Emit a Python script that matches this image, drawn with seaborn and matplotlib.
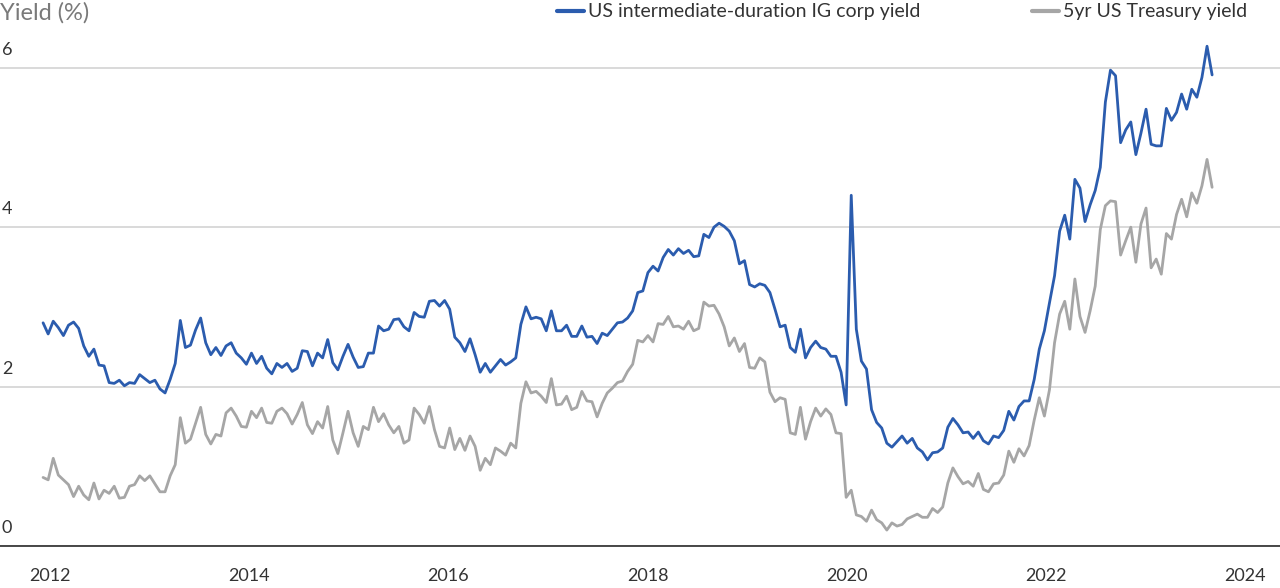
import numpy as np
import pandas as pd
import matplotlib
matplotlib.use("Agg")
import matplotlib.pyplot as plt
import seaborn as sns

# ---------------- data ----------------
corp_label = "US intermediate-duration IG corp yield"
tsy_label = "5yr US Treasury yield"

start_date = "2011-12-06"
end_date = "2023-09-02"

corp_yield = [
    2.80, 2.66, 2.82, 2.74, 2.64, 2.77, 2.81, 2.73, 2.51, 2.38,
    2.47, 2.27, 2.26, 2.05, 2.04, 2.08, 2.01, 2.05, 2.04, 2.15,
    2.10, 2.05, 2.08, 1.97, 1.92, 2.09, 2.29, 2.83, 2.49, 2.52,
    2.71, 2.86, 2.55, 2.40, 2.49, 2.39, 2.51, 2.55, 2.42, 2.36,
    2.28, 2.42, 2.29, 2.38, 2.23, 2.16, 2.29, 2.24, 2.29, 2.19,
    2.23, 2.45, 2.44, 2.26, 2.42, 2.36, 2.59, 2.30, 2.21, 2.38,
    2.53, 2.37, 2.24, 2.25, 2.42, 2.42, 2.76, 2.70, 2.72, 2.84,
    2.85, 2.75, 2.70, 2.93, 2.88, 2.87, 3.07, 3.08, 3.01,
    3.08, 2.97, 2.62, 2.55, 2.44, 2.60, 2.40, 2.18, 2.29, 2.18,
    2.26, 2.34, 2.27, 2.31, 2.36, 2.78, 3.00, 2.85, 2.87, 2.85,
    2.70, 2.95, 2.70, 2.70, 2.77, 2.63, 2.63, 2.76, 2.62, 2.63,
    2.54, 2.67, 2.64, 2.72, 2.80, 2.81, 2.86, 2.95, 3.18, 3.20,
    3.43, 3.51, 3.45, 3.62, 3.72, 3.65, 3.73, 3.67, 3.71, 3.63,
    3.64, 3.91, 3.87, 4.00, 4.05, 4.01, 3.95, 3.83, 3.54, 3.58,
    3.28, 3.25, 3.29, 3.27, 3.18, 2.97, 2.75, 2.77, 2.49, 2.43,
    2.72, 2.36, 2.49, 2.57, 2.49, 2.47, 2.38, 2.38, 2.18,
    1.77, 4.40, 2.72, 2.32, 2.22, 1.71, 1.55, 1.48, 1.29, 1.24,
    1.31, 1.38, 1.29, 1.35, 1.23, 1.18, 1.08, 1.17, 1.18, 1.23,
    1.49, 1.60, 1.52, 1.42, 1.43, 1.35, 1.43, 1.32, 1.28, 1.38,
    1.36, 1.45, 1.69, 1.58, 1.75, 1.82, 1.82, 2.09, 2.47,
    2.70, 3.05, 3.39, 3.95, 4.15, 3.85, 4.60, 4.49, 4.07, 4.28,
    4.46, 4.75, 5.57, 5.97, 5.90, 5.06, 5.22, 5.32, 4.91, 5.18,
    5.48, 5.04, 5.02, 5.02, 5.49, 5.34, 5.44, 5.67, 5.48, 5.73,
    5.63, 5.88, 6.27, 5.91,
]

tsy_yield = [
    0.86, 0.83, 1.10, 0.89, 0.83, 0.77, 0.62, 0.75, 0.64, 0.58,
    0.79, 0.59, 0.70, 0.66, 0.75, 0.60, 0.61, 0.75, 0.77, 0.88,
    0.82, 0.88, 0.78, 0.68, 0.68, 0.88, 1.02, 1.61, 1.29, 1.34,
    1.54, 1.74, 1.40, 1.28, 1.40, 1.38, 1.67, 1.73, 1.63, 1.50,
    1.49, 1.69, 1.61, 1.73, 1.55, 1.54, 1.69, 1.73, 1.66, 1.53,
    1.65, 1.80, 1.52, 1.41, 1.56, 1.48, 1.75, 1.33, 1.16, 1.42,
    1.69, 1.42, 1.25, 1.50, 1.46, 1.74, 1.56, 1.66, 1.52, 1.42,
    1.50, 1.29, 1.33, 1.73, 1.65, 1.54, 1.75, 1.46, 1.25,
    1.23, 1.48, 1.21, 1.35, 1.20, 1.38, 1.25, 0.95, 1.10, 1.02,
    1.23, 1.19, 1.14, 1.29, 1.23, 1.79, 2.06, 1.92, 1.94, 1.88,
    1.80, 2.10, 1.77, 1.78, 1.88, 1.71, 1.74, 1.94, 1.82, 1.81,
    1.62, 1.79, 1.92, 1.98, 2.05, 2.07, 2.19, 2.28, 2.58, 2.56,
    2.64, 2.56, 2.79, 2.78, 2.88, 2.75, 2.76, 2.72, 2.82, 2.70,
    2.73, 3.06, 3.01, 3.02, 2.91, 2.75, 2.51, 2.61, 2.44, 2.54,
    2.24, 2.23, 2.36, 2.31, 1.93, 1.81, 1.86, 1.84, 1.42, 1.40,
    1.74, 1.34, 1.56, 1.73, 1.63, 1.72, 1.65, 1.42, 1.41,
    0.61, 0.70, 0.39, 0.37, 0.31, 0.45, 0.33, 0.29, 0.20, 0.29,
    0.25, 0.27, 0.34, 0.37, 0.40, 0.36, 0.36, 0.47, 0.42, 0.49,
    0.79, 0.98, 0.87, 0.78, 0.81, 0.75, 0.91, 0.71, 0.68, 0.78,
    0.79, 0.89, 1.19, 1.05, 1.22, 1.13, 1.26, 1.58, 1.86,
    1.63, 1.96, 2.55, 2.91, 3.07, 2.72, 3.35, 2.88, 2.68, 2.95,
    3.26, 3.97, 4.27, 4.33, 4.32, 3.65, 3.83, 4.00, 3.56, 4.04,
    4.24, 3.49, 3.60, 3.41, 3.92, 3.85, 4.16, 4.35, 4.13, 4.43,
    4.30, 4.52, 4.85, 4.50,
]

year_ticks = [2012, 2014, 2016, 2018, 2020, 2022, 2024]
y_ticks = [0, 2, 4, 6]

# ---------------- build table ----------------
dates = pd.date_range(start=start_date, end=end_date, periods=len(corp_yield))
df = pd.concat([
    pd.DataFrame({"date": dates, "yield": corp_yield, "series": corp_label}),
    pd.DataFrame({"date": dates, "yield": tsy_yield, "series": tsy_label}),
], ignore_index=True)

BLUE = "#2b5cae"
GREY = "#a6a6a6"
TEXT = "#333333"

sns.set_theme(style="white")
plt.rcParams["font.family"] = ["Lato", "DejaVu Sans"]

fig = plt.figure(figsize=(12.8, 5.88), dpi=100)
ax = fig.add_axes([0.0, 42 / 588, 1.0, 546 / 588])

sns.lineplot(data=df, x="date", y="yield", hue="series",
             palette={corp_label: BLUE, tsy_label: GREY},
             hue_order=[corp_label, tsy_label],
             estimator=None, linewidth=2.0, ax=ax, legend=True)

ax.set_xlim(pd.Timestamp("2011-07-01"), pd.Timestamp("2024-05-08"))
ax.set_ylim(0, 6.85)

for s in ["top", "right", "left"]:
    ax.spines[s].set_visible(False)
ax.spines["bottom"].set_color("#3a3a3a")
ax.spines["bottom"].set_linewidth(1.3)

ax.set_yticks(y_ticks)
ax.yaxis.grid(True, color="#cfcfcf", linewidth=1.1)
ax.xaxis.grid(False)
ax.tick_params(axis="y", length=0, labelleft=False)
ax.set_xticks([pd.Timestamp(f"{y}-01-01") for y in year_ticks])
ax.set_xticklabels([str(y) for y in year_ticks], fontsize=13, color=TEXT)
ax.tick_params(axis="x", length=0, pad=16)
ax.set_xlabel("")
ax.set_ylabel("")

for v in y_ticks:
    ax.annotate(str(v), xy=(0, v), xycoords=("axes fraction", "data"),
                xytext=(2, 13), textcoords="offset pixels",
                ha="left", va="baseline", fontsize=13, color=TEXT)

fig.text(0.0, 1 - 2 / 588, "Yield (%)", ha="left", va="top",
         fontsize=17, color="#7a7a7a")

handles, labels = ax.get_legend_handles_labels()
leg = ax.legend(handles, labels, ncol=2, loc="center left",
                bbox_to_anchor=(557 / 1280, 1 - 12 / 588),
                bbox_transform=fig.transFigure, frameon=False,
                borderpad=0, borderaxespad=0, handlelength=1.4,
                handletextpad=0.22, columnspacing=5.7, fontsize=14)
for line in leg.get_lines():
    line.set_linewidth(3.0)
for t in leg.get_texts():
    t.set_color(TEXT)

fig.savefig("out.png", dpi=100)
